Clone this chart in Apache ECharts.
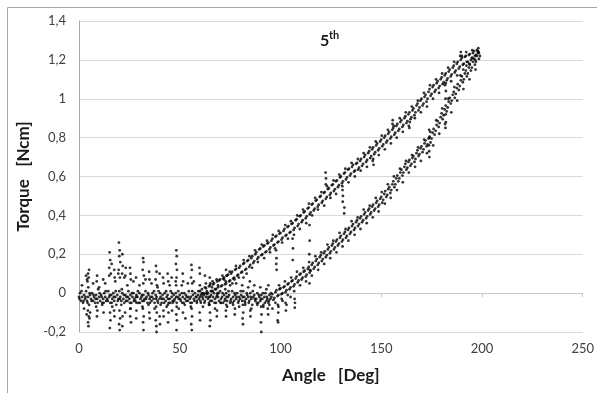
<!DOCTYPE html>
<html>
<head>
<meta charset="utf-8">
<script src="https://cdn.jsdelivr.net/npm/echarts@6/dist/echarts.min.js"></script>
<style>
html,body{margin:0;padding:0;background:#fff;}
#chart{width:597px;height:393px;}
</style>
</head>
<body>
<div id="chart"></div>
<script>
// ---- data (angle [Deg], torque [Ncm]) ----
const xAxisTitle = 'Angle   [Deg]';
const yAxisTitle = 'Torque   [Ncm]';
const chartLabelMain = '5';
const chartLabelSup = 'th';

const baselineCore = [[0,-0.02],[0.5,0.0],[1,-0.04],[1.5,-0.02],[2,-0.05],[2.5,-0.01],[3,-0.03],[3.5,0.01],[4,-0.04],[4.5,-0.02],[5,-0.06],[5.5,-0.01],[6,-0.03],[6.5,0.0],[7,-0.04],[7.5,-0.02],[8,-0.05],[8.5,-0.01],[9,-0.03],[9.5,0.02],[10,-0.02],[10.5,-0.04],[11,-0.01],[11.5,-0.05],[12,-0.03],[12.5,0.0],[13,-0.02],[13.5,-0.04],[14,-0.03],[14.5,0.01],[15,-0.02],[15.5,-0.05],[16,-0.01],[16.5,-0.03],[17,0.0],[17.5,-0.04],[18,-0.02],[18.5,-0.06],[19,-0.01],[19.5,-0.03],[20,0.01],[20.5,-0.02],[21,-0.04],[21.5,0.0],[22,-0.03],[22.5,-0.05],[23,-0.01],[23.5,-0.02],[24,-0.04],[24.5,0.01],[25,-0.03],[25.5,-0.01],[26,-0.05],[26.5,-0.02],[27,0.0],[27.5,-0.03],[28,-0.04],[28.5,-0.01],[29,-0.02],[29.5,-0.05],[30,0.0],[30.5,-0.03],[31,-0.02],[31.5,-0.04],[32,-0.01],[32.5,-0.03],[33,0.01],[33.5,-0.02],[34,-0.05],[34.5,-0.01],[35,-0.03],[35.5,-0.02],[36,-0.04],[36.5,0.0],[37,-0.03],[37.5,-0.05],[38,-0.01],[38.5,-0.02],[39,-0.04],[39.5,0.01],[40,-0.03],[40.5,-0.02],[41,-0.05],[41.5,-0.01],[42,-0.03],[42.5,0.0],[43,-0.04],[43.5,-0.02],[44,-0.01],[44.5,-0.05],[45,-0.03],[45.5,0.01],[46,-0.02],[46.5,-0.04],[47,-0.01],[47.5,-0.03],[48,0.0],[48.5,-0.05],[49,-0.02],[49.5,-0.03],[50,-0.01],[50.5,-0.04],[51,0.0],[51.5,-0.02],[52,-0.05],[52.5,-0.03],[53,-0.01],[53.5,-0.02],[54,-0.04],[54.5,0.01],[55,-0.03],[55.5,-0.02],[56,-0.05],[56.5,-0.01],[57,-0.03],[57.5,0.0],[58,-0.02],[58.5,-0.04],[59,-0.01],[59.5,-0.03],[60,-0.02],[60.5,-0.05],[61,0.0],[61.5,-0.03],[62,-0.01],[62.5,-0.04],[63,-0.02],[63.5,0.01],[64,-0.03],[64.5,-0.05],[65,-0.02],[65.5,-0.01],[66,-0.04],[66.5,-0.02],[67,0.0],[67.5,-0.03],[68,-0.05],[68.5,-0.01],[69,-0.02],[69.5,-0.04],[70,0.01],[70.5,-0.03],[71,-0.02],[71.5,-0.05],[72,-0.01],[72.5,-0.03],[73,0.0],[73.5,-0.04],[74,-0.02],[74.5,-0.01],[75,-0.05],[75.5,-0.03],[76,0.01],[76.5,-0.02],[77,-0.04],[77.5,-0.01],[78,-0.03],[78.5,0.0],[79,-0.05],[79.5,-0.02],[80,-0.03],[80.5,-0.01],[81,-0.04],[81.5,0.01],[82,-0.02],[82.5,-0.05],[83,-0.03],[83.5,-0.01],[84,-0.02],[84.5,-0.04],[85,0.0],[85.5,-0.03],[86,-0.06],[86.5,-0.02],[87,-0.01],[87.5,-0.04],[88,-0.03],[88.5,0.0],[89,-0.05],[89.5,-0.02],[90,-0.04],[90.5,-0.01],[91,-0.03],[91.5,-0.06],[92,-0.02],[92.5,0.0],[93,-0.04],[93.5,-0.03],[94,-0.05],[94.5,-0.01],[95,-0.03],[95.5,-0.02]];

const baselineCore2 = [[0.25,-0.03],[1.25,0.01],[2.25,-0.04],[3.25,-0.02],[4.25,-0.05],[5.25,0.0],[6.25,-0.04],[7.25,-0.01],[8.25,-0.03],[9.25,-0.05],[10.25,0.0],[11.25,-0.02],[12.25,-0.05],[13.25,0.01],[14.25,-0.04],[15.25,-0.01],[16.25,-0.05],[17.25,-0.02],[18.25,0.01],[19.25,-0.04],[20.25,-0.03],[21.25,0.02],[22.25,-0.01],[23.25,-0.04],[24.25,-0.02],[25.25,-0.05],[26.25,0.0],[27.25,-0.04],[28.25,-0.02],[29.25,0.01],[30.25,-0.05],[31.25,-0.01],[32.25,-0.04],[33.25,-0.03],[34.25,0.0],[35.25,-0.05],[36.25,-0.02],[37.25,0.01],[38.25,-0.03],[39.25,-0.05],[40.25,0.0],[41.25,-0.03],[42.25,-0.05],[43.25,0.01],[44.25,-0.03],[45.25,-0.05],[46.25,0.0],[47.25,-0.04],[48.25,-0.02],[49.25,0.01],[50.25,-0.03],[51.25,-0.05],[52.25,0.0],[53.25,-0.04],[54.25,-0.02],[55.25,-0.05],[56.25,0.01],[57.25,-0.04],[58.25,-0.02],[59.25,0.01],[60.25,-0.04],[61.25,-0.02],[62.25,-0.05],[63.25,0.0],[64.25,-0.02],[65.25,-0.04],[66.25,0.01],[67.25,-0.05],[68.25,-0.02],[69.25,0.0],[70.25,-0.05],[71.25,0.0],[72.25,-0.04],[73.25,-0.02],[74.25,0.01],[75.25,-0.04],[76.25,-0.05],[77.25,0.0],[78.25,-0.02],[79.25,-0.04],[80.25,0.01],[81.25,-0.02],[82.25,-0.04],[83.25,0.0],[84.25,-0.05],[85.25,-0.02],[86.25,0.01],[87.25,-0.03],[88.25,-0.05],[89.25,-0.01],[90.25,-0.03],[91.25,0.0],[92.25,-0.05],[93.25,-0.02],[94.25,-0.04],[95.25,0.0]];

const baselineNoise = [[1.5,0.04],[2.5,-0.08],[4,0.07],[5.5,-0.1],[7,0.05],[8.5,-0.07],[10,0.03],[11.5,-0.06],[13,0.05],[15,0.09],[16.5,-0.07],[18,0.06],[19.5,0.1],[21,-0.06],[22.5,0.08],[24,0.04],[25.5,-0.08],[27,0.06],[28.5,-0.05],[30,0.04],[31.5,-0.07],[33,0.07],[34.5,-0.06],[36,0.05],[37.5,-0.08],[39,0.03],[40.5,-0.06],[42,0.05],[43.5,-0.07],[45,0.04],[46.5,-0.05],[48,0.06],[49.5,-0.08],[51,0.04],[52.5,-0.06],[54,0.05],[55.5,-0.07],[57,0.06],[58.5,-0.05],[60,0.04],[61.5,-0.07],[63,0.05],[64.5,-0.06],[66,0.03],[67.5,-0.08],[69,0.04],[70.5,-0.05],[72,0.07],[73.5,-0.07],[75,0.04],[76.5,-0.06],[78,0.05],[79.5,-0.07],[81,0.04],[82.5,-0.06],[84,0.03],[85.5,-0.08],[87,0.04],[88.5,-0.06],[90,0.03],[91.5,-0.07],[93,0.02],[94.5,-0.06],[96,-0.08],[97.5,-0.05],[99,-0.07],[101,-0.04],[103,-0.06],[105,-0.02]];

const baselineSpikes = [[4.5,0.10],[4.8,0.08],[4.2,0.06],[5,0.12],[4.6,0.03],[4.4,-0.09],[4.9,-0.12],[4.5,-0.15],[4.7,-0.17],[5.2,-0.13],[3.5,0.09],[3.8,-0.11],
[15.2,0.21],[15.5,0.17],[15,0.13],[15.8,0.1],[15.4,-0.1],[15.6,-0.14],[15.3,-0.18],[16.2,0.15],
[19.8,0.26],[20.2,0.22],[20,0.19],[20.5,0.16],[19.7,0.12],[20.3,0.08],[21.5,0.2],[21.7,0.14],[21.4,0.1],[20.1,-0.09],[20.4,-0.13],[19.9,-0.16],[20.2,-0.19],[21.6,-0.12],[21.5,-0.17],
[25.5,0.1],[25.7,0.07],[25.3,0.13],[25.6,-0.08],[25.4,-0.12],[25.8,-0.15],
[31.8,0.18],[32,0.16],[31.6,0.12],[32.2,0.09],[31.9,0.05],[31.7,-0.08],[32.1,-0.12],[31.8,-0.15],[32,-0.19],
[38.2,0.14],[38.5,0.11],[38,0.07],[38.7,0.04],[38.3,-0.07],[38.6,-0.1],[38.1,-0.14],[38.4,-0.17],[38.5,-0.2],[40,-0.12],[40.2,-0.16],[40,0.1],
[44,0.1],[44.3,0.06],[44.1,-0.06],[44.4,-0.1],[44.2,-0.15],
[48.3,0.22],[48.5,0.19],[48.1,0.15],[48.6,0.12],[48.4,0.08],[48.2,0.04],[48.5,-0.07],[48.3,-0.11],[48.6,-0.14],[48.4,-0.19],
[55.8,0.145],[56,0.12],[55.6,0.08],[56.2,0.05],[55.9,-0.08],[56.1,-0.12],[55.7,-0.16],[56,-0.19],
[64.9,0.08],[65.1,0.05],[64.8,-0.06],[65,-0.1],[65.2,-0.14],[64.9,-0.17],
[73,0.12],[73.2,0.09],[72.8,0.06],[73.1,-0.06],[72.9,-0.09],[73,-0.12],
[81.3,-0.06],[81.5,-0.1],[81.2,-0.13],[81.4,-0.16],[81.6,0.08],
[90.4,-0.07],[90.6,-0.11],[90.3,-0.15],[90.5,-0.2],
[98.7,-0.06],[98.9,-0.1],[98.6,-0.14],[98.8,-0.15],
[107,-0.03],[107.2,-0.05],[107.1,-0.075]];

const baselineSpikes2 = [[8.8,0.06],[9,0.09],[9.1,-0.09],[8.9,-0.12],[12,0.07],[12.2,-0.1],[17.5,0.12],[17.7,0.08],[17.4,-0.09],[17.6,-0.12],[23,0.09],[23.2,0.13],[22.9,-0.1],[28.3,0.08],[28.5,-0.09],[28.4,-0.13],[34.8,0.11],[35,0.07],[34.9,-0.1],[35.1,-0.13],[41.7,0.08],[41.9,-0.09],[42,-0.12],[46,0.08],[46.2,-0.09],[51.5,0.1],[51.7,0.06],[51.6,-0.1],[52.8,-0.13],[59.8,0.13],[60,0.1],[59.9,-0.1],[60.1,-0.14],[62.5,0.09],[68.3,0.07],[68.5,-0.09],[68.4,-0.12],[77.2,0.07],[77.4,-0.08],[77.3,-0.11],[84.8,0.06],[85,-0.09],[85.1,-0.12],[93.7,-0.08],[93.9,-0.11],[94,0.04],[102.5,-0.05],[102.7,-0.09]];

const upperBranch = [[60,0.01],[60.5,-0.01],[61,0.02],[61.5,-0.005],[62,0.0],[62.5,0.03],[63,0.025],[63.5,-0.005],[64,0.0],[64.5,0.035],[65,0.04],[65.5,0.01],[66,0.01],[66.5,0.045],[67,0.05],[67.5,0.02],[68,0.02],[68.5,0.06],[69,0.03],[69.5,0.065],[70,0.07],[70.5,0.035],[71,0.04],[71.5,0.075],[72,0.08],[72.5,0.045],[73,0.05],[73.5,0.09],[74,0.095],[74.5,0.06],[75,0.065],[75.5,0.1],[76,0.11],[76.5,0.075],[77,0.08],[77.5,0.12],[78,0.125],[78.5,0.09],[79,0.095],[79.5,0.13],[80,0.14],[80.5,0.105],[81,0.11],[81.5,0.15],[82,0.155],[82.5,0.12],[83,0.125],[83.5,0.165],[84,0.17],[84.5,0.135],[85,0.145],[85.5,0.18],[86,0.19],[86.5,0.155],[87,0.165],[87.5,0.2],[88,0.21],[88.5,0.175],[89,0.185],[89.5,0.225],[90,0.23],[90.5,0.195],[91,0.2],[91.5,0.24],[92,0.245],[92.5,0.21],[93,0.215],[93.5,0.255],[94,0.26],[94.5,0.225],[95,0.235],[95.5,0.27],[96,0.28],[96.5,0.245],[97,0.25],[97.5,0.29],[98,0.295],[98.5,0.26],[99,0.265],[99.5,0.305],[100,0.31],[100.5,0.275],[101,0.285],[101.5,0.32],[102,0.33],[102.5,0.295],[103,0.3],[103.5,0.34],[104,0.345],[104.5,0.31],[105,0.315],[105.5,0.355],[106,0.36],[106.5,0.325],[107,0.335],[107.5,0.375],[108,0.38],[108.5,0.345],[109,0.355],[109.5,0.395],[110,0.40],[110.5,0.365],[111,0.375],[111.5,0.415],[112,0.42],[112.5,0.385],[113,0.395],[113.5,0.435],[114,0.44],[114.5,0.405],[115,0.415],[115.5,0.455],[116,0.46],[116.5,0.425],[117,0.435],[117.5,0.475],[118,0.48],[118.5,0.445],[119,0.455],[119.5,0.495],[120,0.50],[120.5,0.465],[121,0.475],[121.5,0.515],[122,0.52],[122.5,0.485],[123,0.495],[123.5,0.535],[124,0.54],[124.5,0.505],[125,0.515],[125.5,0.555],[126,0.56],[126.5,0.525],[127,0.535],[127.5,0.575],[128,0.58],[128.5,0.545],[129,0.555],[129.5,0.595],[130,0.60],[130.5,0.565],[131,0.575],[131.5,0.615],[132,0.62],[132.5,0.585],[133,0.595],[133.5,0.635],[134,0.64],[134.5,0.605],[135,0.615],[135.5,0.65],[136,0.66],[136.5,0.625],[137,0.63],[137.5,0.665],[138,0.67],[138.5,0.635],[139,0.645],[139.5,0.68],[140,0.69],[140.5,0.655],[141,0.665],[141.5,0.70],[142,0.71],[142.5,0.675],[143,0.685],[143.5,0.72],[144,0.73],[144.5,0.695],[145,0.705],[145.5,0.74],[146,0.75],[146.5,0.715],[147,0.725],[147.5,0.76],[148,0.77],[148.5,0.735],[149,0.745],[149.5,0.78],[150,0.79],[150.5,0.755],[151,0.765],[151.5,0.80],[152,0.81],[152.5,0.775],[153,0.785],[153.5,0.82],[154,0.83],[154.5,0.795],[155,0.805],[155.5,0.84],[156,0.85],[156.5,0.815],[157,0.825],[157.5,0.86],[158,0.87],[158.5,0.835],[159,0.845],[159.5,0.88],[160,0.89],[160.5,0.855],[161,0.865],[161.5,0.90],[162,0.91],[162.5,0.875],[163,0.885],[163.5,0.92],[164,0.93],[164.5,0.895],[165,0.905],[165.5,0.94],[166,0.95],[166.5,0.915],[167,0.93],[167.5,0.965],[168,0.975],[168.5,0.94],[169,0.955],[169.5,0.99],[170,1.0],[170.5,0.965],[171,0.975],[171.5,1.01],[172,1.02],[172.5,0.985],[173,1.0],[173.5,1.035],[174,1.05],[174.5,1.015],[175,1.025],[175.5,1.06],[176,1.07],[176.5,1.035],[177,1.045],[177.5,1.08],[178,1.09],[178.5,1.055],[179,1.065],[179.5,1.10],[180,1.11],[180.5,1.075],[181,1.085],[181.5,1.12],[182,1.13],[182.5,1.095],[183,1.105],[183.5,1.14],[184,1.15],[184.5,1.115],[185,1.125],[185.5,1.16],[186,1.17],[186.5,1.135],[187,1.145],[187.5,1.18],[188,1.19],[188.5,1.155],[189,1.165],[189.5,1.20],[190,1.21],[190.5,1.175],[191,1.18],[191.5,1.215],[192,1.22],[192.5,1.19],[193,1.19],[193.5,1.225],[194,1.23],[194.5,1.20],[195,1.21],[195.5,1.235],[196,1.245],[196.5,1.22],[197,1.225],[197.5,1.25],[198,1.245],[198.5,1.235]];

const upperScatter = [[66.3,0.06],[68.7,0.0],[71.2,0.09],[72.6,0.02],[74.8,0.11],[76.1,0.05],[77.9,0.14],[79.3,0.08],[81.7,0.17],[83.2,0.1],[84.6,0.19],[85.9,0.13],[87.4,0.22],[88.8,0.16],[90.7,0.25],[91.9,0.18],[93.3,0.27],[94.8,0.21],[96.2,0.3],[97.3,0.23],[99.1,0.32],[100.8,0.26],[102.4,0.35],[103.7,0.28],[105.2,0.37],[106.7,0.3],[108.3,0.4],[109.6,0.33],[111.2,0.43],[112.8,0.36],[114.1,0.46],[115.7,0.4],[117.2,0.49],[118.6,0.43],[120.3,0.52],[121.7,0.45],[123.1,0.55],[124.8,0.49],[126.3,0.58],[127.6,0.51],[129.2,0.61],[130.7,0.55],[132.2,0.64],[133.8,0.57],[135.3,0.67],[136.9,0.6],[138.4,0.69],[139.8,0.63],[141.3,0.72],[142.9,0.65],[144.4,0.75],[145.8,0.68],[147.3,0.78],[148.8,0.71],[150.3,0.81],[151.8,0.74],[153.3,0.84],[154.8,0.77],[156.2,0.86],[157.7,0.8],[159.2,0.9],[160.7,0.83],[162.2,0.93],[163.7,0.86],[165.2,0.96],[166.7,0.9],[168.2,0.99],[169.7,0.93],[171.2,1.03],[172.7,0.96],[174.2,1.07],[175.7,1.0],[177.2,1.1],[178.7,1.03],[180.2,1.13],[181.7,1.07],[183.2,1.16],[184.7,1.09],[186.2,1.19],[187.7,1.12],[189.2,1.22],[190.7,1.15],[192.2,1.24],[193.7,1.18],[195.2,1.25],[196.7,1.2],[198.2,1.26],[199,1.22]];

const lowerBranch = [[96,-0.005],[96.5,-0.035],[97,-0.025],[97.5,0.005],[98,0.015],[98.5,-0.015],[99,-0.01],[99.5,0.02],[100,0.025],[100.5,-0.005],[101,0.0],[101.5,0.03],[102,0.035],[102.5,0.005],[103,0.015],[103.5,0.045],[104,0.05],[104.5,0.02],[105,0.03],[105.5,0.06],[106,0.065],[106.5,0.035],[107,0.045],[107.5,0.075],[108,0.085],[108.5,0.055],[109,0.065],[109.5,0.095],[110,0.10],[110.5,0.07],[111,0.08],[111.5,0.11],[112,0.115],[112.5,0.085],[113,0.095],[113.5,0.125],[114,0.135],[114.5,0.105],[115,0.115],[115.5,0.145],[116,0.155],[116.5,0.125],[117,0.135],[117.5,0.165],[118,0.175],[118.5,0.145],[119,0.155],[119.5,0.185],[120,0.195],[120.5,0.165],[121,0.175],[121.5,0.205],[122,0.215],[122.5,0.185],[123,0.195],[123.5,0.225],[124,0.235],[124.5,0.205],[125,0.215],[125.5,0.245],[126,0.255],[126.5,0.225],[127,0.235],[127.5,0.265],[128,0.275],[128.5,0.245],[129,0.255],[129.5,0.285],[130,0.295],[130.5,0.265],[131,0.275],[131.5,0.305],[132,0.315],[132.5,0.285],[133,0.295],[133.5,0.325],[134,0.335],[134.5,0.305],[135,0.315],[135.5,0.345],[136,0.355],[136.5,0.325],[137,0.335],[137.5,0.365],[138,0.375],[138.5,0.345],[139,0.355],[139.5,0.385],[140,0.395],[140.5,0.365],[141,0.375],[141.5,0.405],[142,0.415],[142.5,0.385],[143,0.395],[143.5,0.425],[144,0.435],[144.5,0.405],[145,0.415],[145.5,0.445],[146,0.455],[146.5,0.425],[147,0.435],[147.5,0.465],[148,0.475],[148.5,0.445],[149,0.455],[149.5,0.485],[150,0.495],[150.5,0.465],[151,0.48],[151.5,0.51],[152,0.525],[152.5,0.495],[153,0.505],[153.5,0.535],[154,0.545],[154.5,0.515],[155,0.53],[155.5,0.56],[156,0.575],[156.5,0.545],[157,0.56],[157.5,0.59],[158,0.605],[158.5,0.575],[159,0.59],[159.5,0.62],[160,0.635],[160.5,0.605],[161,0.62],[161.5,0.65],[162,0.665],[162.5,0.635],[163,0.645],[163.5,0.675],[164,0.685],[164.5,0.655],[165,0.665],[165.5,0.695],[166,0.705],[166.5,0.675],[167,0.69],[167.5,0.72],[168,0.735],[168.5,0.705],[169,0.715],[169.5,0.745],[170,0.755],[170.5,0.725],[171,0.74],[171.5,0.77],[172,0.785],[172.5,0.755],[173,0.765],[173.5,0.795],[174,0.805],[174.5,0.775],[175,0.795],[175.5,0.825],[176,0.845],[176.5,0.815],[177,0.835],[177.5,0.865],[178,0.885],[178.5,0.855],[179,0.875],[179.5,0.905],[180,0.925],[180.5,0.895],[181,0.915],[181.5,0.945],[182,0.965],[182.5,0.935],[183,0.955],[183.5,0.985],[184,1.005],[184.5,0.975],[185,0.99],[185.5,1.02],[186,1.035],[186.5,1.005],[187,1.025],[187.5,1.055],[188,1.075],[188.5,1.045],[189,1.065],[189.5,1.095],[190,1.115],[190.5,1.085],[191,1.10],[191.5,1.13],[192,1.145],[192.5,1.115],[193,1.13],[193.5,1.16],[194,1.175],[194.5,1.145],[195,1.16],[195.5,1.19],[196,1.205],[196.5,1.175],[197,1.19],[197.5,1.22],[198,1.235],[198.5,1.205]];

const lowerScatter = [[99.3,0.04],[100.6,-0.03],[102.2,0.06],[103.6,-0.01],[105.3,0.08],[106.8,0.01],[108.2,0.11],[109.7,0.04],[111.3,0.13],[112.7,0.06],[114.2,0.16],[115.6,0.09],[117.3,0.19],[118.7,0.12],[120.2,0.21],[121.7,0.15],[123.3,0.25],[124.7,0.18],[126.2,0.27],[127.8,0.21],[129.3,0.31],[130.8,0.24],[132.3,0.33],[133.7,0.27],[135.3,0.37],[136.8,0.3],[138.3,0.39],[139.7,0.33],[141.3,0.43],[142.8,0.36],[144.3,0.45],[145.8,0.39],[147.3,0.49],[148.7,0.42],[150.3,0.52],[151.8,0.46],[153.3,0.56],[154.7,0.49],[156.3,0.6],[157.8,0.53],[159.3,0.64],[160.7,0.57],[162.3,0.68],[163.7,0.62],[165.3,0.71],[166.8,0.65],[168.3,0.75],[169.7,0.68],[171.3,0.79],[172.7,0.72],[174.3,0.83],[175.8,0.76],[177.3,0.89],[178.8,0.82],[180.3,0.95],[181.7,0.87],[183.3,1.0],[184.8,0.93],[186.3,1.06],[187.7,0.99],[189.3,1.12],[190.8,1.05],[192.3,1.17],[193.8,1.1],[195.3,1.21],[196.8,1.15],[198.3,1.24]];

const branchSpikes = [[97.8,0.22],[98,0.18],[97.9,0.15],[98.1,0.12],[106,0.28],[106.2,0.23],[106.1,0.17],[114.4,0.35],[114.5,0.27],[114.3,0.2],[114.5,0.12],[114.4,0.05],[122.5,0.56],[122.6,0.59],[122.4,0.62],[130.8,0.53],[131,0.5],[130.9,0.47],[131.7,0.44],[131.6,0.41],[155.6,0.87],[155.7,0.89],[146,0.69],[146.2,0.66],[173.8,0.84],[173.9,0.80],[173.7,0.76],[173.8,0.73],[173.9,0.70],[182,1.08],[182.1,1.04],[181.9,1.0],[182,0.92],[182.1,0.88],[181.9,0.85],[190,1.22],[189.5,1.24],[164,0.85],[164.2,0.88]];

const xMin = 0, xMax = 250, xStep = 50;
const yMin = -0.2, yMax = 1.4, yStep = 0.2;

// ---- chart ----
const FONT = 'Lato, "Open Sans", sans-serif';
const chart = echarts.init(document.getElementById('chart'), null, {renderer: 'canvas'});
const dotStyle = {color: '#000'};
function dots(data) {
  return {type: 'scatter', data: data, symbol: 'circle', symbolSize: 2.8, itemStyle: dotStyle, silent: true, animation: false};
}
chart.setOption({
  backgroundColor: '#fff',
  animation: false,
  grid: {left: 79, right: 13, top: 21, bottom: 61, containLabel: false},
  xAxis: {
    type: 'value', min: xMin, max: xMax, interval: xStep,
    name: xAxisTitle, nameLocation: 'middle', nameGap: 35,
    nameTextStyle: {fontFamily: FONT, fontSize: 17, fontWeight: 'bold', color: '#1a1a1a'},
    axisLine: {show: true, lineStyle: {color: '#c8c8c8', width: 1}},
    axisTick: {show: true, length: 4, lineStyle: {color: '#c8c8c8'}},
    axisLabel: {fontFamily: FONT, fontSize: 13, color: '#404040', margin: 10},
    splitLine: {show: false}
  },
  yAxis: {
    type: 'value', min: yMin, max: yMax, interval: yStep,
    name: yAxisTitle, nameLocation: 'middle', nameGap: 40, nameRotate: 90,
    nameTextStyle: {fontFamily: FONT, fontSize: 17, fontWeight: 'bold', color: '#1a1a1a'},
    axisLine: {show: true, lineStyle: {color: '#a8a8a8', width: 1}},
    axisTick: {show: false},
    axisLabel: {fontFamily: FONT, fontSize: 13, color: '#404040', margin: 13,
      formatter: function (v) { return String(Math.round(v * 10) / 10).replace('.', ','); }},
    splitLine: {show: true, lineStyle: {color: '#d9d9d9', width: 1}}
  },
  graphic: [
    {type: 'rect', shape: {x: 7.5, y: 7.5, width: 700, height: 500}, style: {fill: 'none', stroke: '#a6a6a6', lineWidth: 1}, silent: true, z: -10},
    {type: 'text', x: 320, y: 33, style: {text: chartLabelMain, fontFamily: FONT, fontSize: 16, fontWeight: 'bold', fill: '#1a1a1a'}},
    {type: 'text', x: 329, y: 30, style: {text: chartLabelSup, fontFamily: FONT, fontSize: 11, fontWeight: 'bold', fill: '#1a1a1a'}}
  ],
  series: [dots(baselineCore), dots(baselineCore2), dots(baselineNoise), dots(baselineSpikes), dots(baselineSpikes2),
           dots(upperBranch), dots(upperScatter), dots(lowerBranch), dots(lowerScatter), dots(branchSpikes)]
});
</script>
</body>
</html>
